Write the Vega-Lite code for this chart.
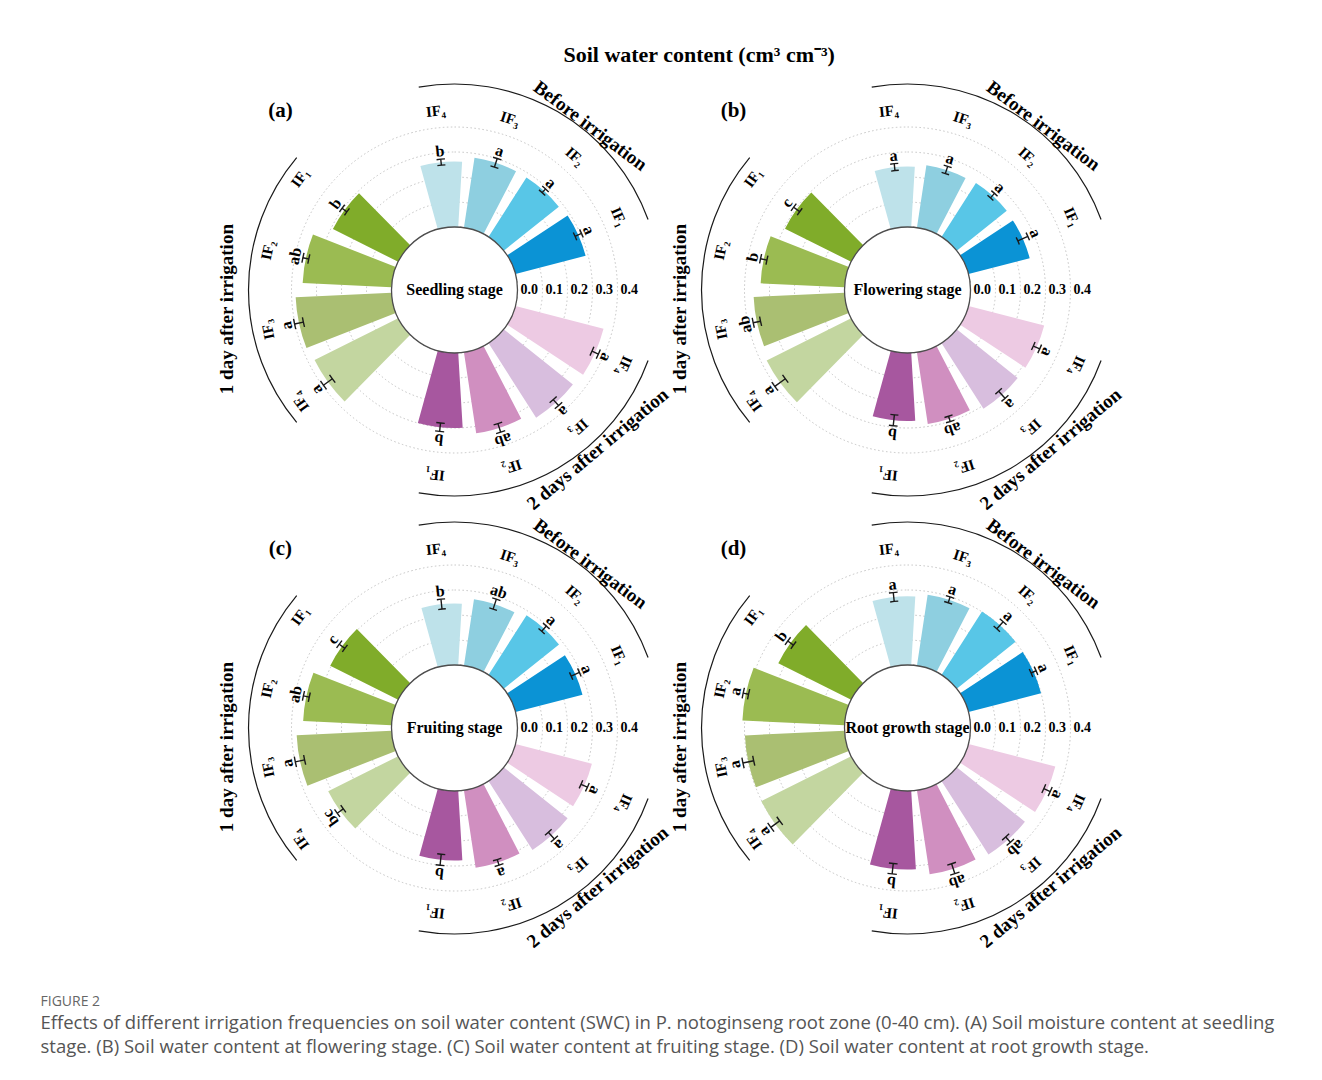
{
  "$schema": "https://vega.github.io/schema/vega-lite/v6.json",
  "background": "white",
  "padding": {"left": 40, "top": 44, "right": 0, "bottom": 0},
  "config": {"view": {"stroke": null}, "font": "Liberation Serif", "text": {"font": "Liberation Serif"}, "header": {"labels": false, "title": null}},
  "data": {"values": [
    {"panel":"a","prow":1,"pcol":1,"kind":"bar","slot":0,"key":"B4","lab":"IF₄","v":0.262,"lo":0.250,"hi":0.274,"sig":"b"},
    {"panel":"a","prow":1,"pcol":1,"kind":"bar","slot":1,"key":"B3","lab":"IF₃","v":0.283,"lo":0.265,"hi":0.301,"sig":"a"},
    {"panel":"a","prow":1,"pcol":1,"kind":"bar","slot":2,"key":"B2","lab":"IF₂","v":0.282,"lo":0.272,"hi":0.292,"sig":"a"},
    {"panel":"a","prow":1,"pcol":1,"kind":"bar","slot":3,"key":"B1","lab":"IF₁","v":0.290,"lo":0.276,"hi":0.304,"sig":"a"},
    {"panel":"a","prow":1,"pcol":1,"kind":"bar","slot":5,"key":"T4","lab":"IF₄","v":0.364,"lo":0.350,"hi":0.378,"sig":"a"},
    {"panel":"a","prow":1,"pcol":1,"kind":"bar","slot":6,"key":"T3","lab":"IF₃","v":0.354,"lo":0.338,"hi":0.370,"sig":"a"},
    {"panel":"a","prow":1,"pcol":1,"kind":"bar","slot":7,"key":"T2","lab":"IF₂","v":0.328,"lo":0.310,"hi":0.346,"sig":"ab"},
    {"panel":"a","prow":1,"pcol":1,"kind":"bar","slot":8,"key":"T1","lab":"IF₁","v":0.300,"lo":0.283,"hi":0.317,"sig":"b"},
    {"panel":"a","prow":1,"pcol":1,"kind":"bar","slot":10,"key":"O4","lab":"IF₄","v":0.374,"lo":0.352,"hi":0.396,"sig":"a"},
    {"panel":"a","prow":1,"pcol":1,"kind":"bar","slot":11,"key":"O3","lab":"IF₃","v":0.384,"lo":0.366,"hi":0.402,"sig":"a"},
    {"panel":"a","prow":1,"pcol":1,"kind":"bar","slot":12,"key":"O2","lab":"IF₂","v":0.356,"lo":0.344,"hi":0.368,"sig":"ab"},
    {"panel":"a","prow":1,"pcol":1,"kind":"bar","slot":13,"key":"O1","lab":"IF₁","v":0.292,"lo":0.280,"hi":0.304,"sig":"b"},
    {"panel":"b","prow":1,"pcol":2,"kind":"bar","slot":0,"key":"B4","lab":"IF₄","v":0.242,"lo":0.228,"hi":0.256,"sig":"a"},
    {"panel":"b","prow":1,"pcol":2,"kind":"bar","slot":1,"key":"B3","lab":"IF₃","v":0.253,"lo":0.238,"hi":0.268,"sig":"a"},
    {"panel":"b","prow":1,"pcol":2,"kind":"bar","slot":2,"key":"B2","lab":"IF₂","v":0.256,"lo":0.244,"hi":0.268,"sig":"a"},
    {"panel":"b","prow":1,"pcol":2,"kind":"bar","slot":3,"key":"B1","lab":"IF₁","v":0.253,"lo":0.231,"hi":0.275,"sig":"a"},
    {"panel":"b","prow":1,"pcol":2,"kind":"bar","slot":5,"key":"T4","lab":"IF₄","v":0.313,"lo":0.299,"hi":0.327,"sig":"a"},
    {"panel":"b","prow":1,"pcol":2,"kind":"bar","slot":6,"key":"T3","lab":"IF₃","v":0.312,"lo":0.293,"hi":0.331,"sig":"a"},
    {"panel":"b","prow":1,"pcol":2,"kind":"bar","slot":7,"key":"T2","lab":"IF₂","v":0.290,"lo":0.279,"hi":0.301,"sig":"ab"},
    {"panel":"b","prow":1,"pcol":2,"kind":"bar","slot":8,"key":"T1","lab":"IF₁","v":0.272,"lo":0.250,"hi":0.294,"sig":"b"},
    {"panel":"b","prow":1,"pcol":2,"kind":"bar","slot":10,"key":"O4","lab":"IF₄","v":0.378,"lo":0.352,"hi":0.404,"sig":"a"},
    {"panel":"b","prow":1,"pcol":2,"kind":"bar","slot":11,"key":"O3","lab":"IF₃","v":0.364,"lo":0.349,"hi":0.379,"sig":"ab"},
    {"panel":"b","prow":1,"pcol":2,"kind":"bar","slot":12,"key":"O2","lab":"IF₂","v":0.336,"lo":0.323,"hi":0.349,"sig":"b"},
    {"panel":"b","prow":1,"pcol":2,"kind":"bar","slot":13,"key":"O1","lab":"IF₁","v":0.296,"lo":0.281,"hi":0.311,"sig":"c"},
    {"panel":"c","prow":2,"pcol":1,"kind":"bar","slot":0,"key":"B4","lab":"IF₄","v":0.246,"lo":0.226,"hi":0.266,"sig":"b"},
    {"panel":"c","prow":2,"pcol":1,"kind":"bar","slot":1,"key":"B3","lab":"IF₃","v":0.269,"lo":0.248,"hi":0.290,"sig":"ab"},
    {"panel":"c","prow":2,"pcol":1,"kind":"bar","slot":2,"key":"B2","lab":"IF₂","v":0.283,"lo":0.269,"hi":0.297,"sig":"a"},
    {"panel":"c","prow":2,"pcol":1,"kind":"bar","slot":3,"key":"B1","lab":"IF₁","v":0.277,"lo":0.259,"hi":0.295,"sig":"a"},
    {"panel":"c","prow":2,"pcol":1,"kind":"bar","slot":5,"key":"T4","lab":"IF₄","v":0.316,"lo":0.302,"hi":0.330,"sig":"a"},
    {"panel":"c","prow":2,"pcol":1,"kind":"bar","slot":6,"key":"T3","lab":"IF₃","v":0.327,"lo":0.309,"hi":0.345,"sig":"a"},
    {"panel":"c","prow":2,"pcol":1,"kind":"bar","slot":7,"key":"T2","lab":"IF₂","v":0.313,"lo":0.301,"hi":0.325,"sig":"a"},
    {"panel":"c","prow":2,"pcol":1,"kind":"bar","slot":8,"key":"T1","lab":"IF₁","v":0.278,"lo":0.256,"hi":0.300,"sig":"b"},
    {"panel":"c","prow":2,"pcol":1,"kind":"bar","slot":10,"key":"O4","lab":"IF₄","v":0.313,"lo":0.298,"hi":0.328,"sig":"bc"},
    {"panel":"c","prow":2,"pcol":1,"kind":"bar","slot":11,"key":"O3","lab":"IF₃","v":0.380,"lo":0.361,"hi":0.399,"sig":"a"},
    {"panel":"c","prow":2,"pcol":1,"kind":"bar","slot":12,"key":"O2","lab":"IF₂","v":0.354,"lo":0.342,"hi":0.366,"sig":"ab"},
    {"panel":"c","prow":2,"pcol":1,"kind":"bar","slot":13,"key":"O1","lab":"IF₁","v":0.304,"lo":0.290,"hi":0.318,"sig":"c"},
    {"panel":"d","prow":2,"pcol":2,"kind":"bar","slot":0,"key":"B4","lab":"IF₄","v":0.275,"lo":0.257,"hi":0.293,"sig":"a"},
    {"panel":"d","prow":2,"pcol":2,"kind":"bar","slot":1,"key":"B3","lab":"IF₃","v":0.287,"lo":0.275,"hi":0.299,"sig":"a"},
    {"panel":"d","prow":2,"pcol":2,"kind":"bar","slot":2,"key":"B2","lab":"IF₂","v":0.301,"lo":0.282,"hi":0.320,"sig":"a"},
    {"panel":"d","prow":2,"pcol":2,"kind":"bar","slot":3,"key":"B1","lab":"IF₁","v":0.300,"lo":0.289,"hi":0.311,"sig":"a"},
    {"panel":"d","prow":2,"pcol":2,"kind":"bar","slot":5,"key":"T4","lab":"IF₄","v":0.359,"lo":0.345,"hi":0.373,"sig":"a"},
    {"panel":"d","prow":2,"pcol":2,"kind":"bar","slot":6,"key":"T3","lab":"IF₃","v":0.349,"lo":0.335,"hi":0.363,"sig":"ab"},
    {"panel":"d","prow":2,"pcol":2,"kind":"bar","slot":7,"key":"T2","lab":"IF₂","v":0.340,"lo":0.319,"hi":0.361,"sig":"ab"},
    {"panel":"d","prow":2,"pcol":2,"kind":"bar","slot":8,"key":"T1","lab":"IF₁","v":0.314,"lo":0.293,"hi":0.335,"sig":"b"},
    {"panel":"d","prow":2,"pcol":2,"kind":"bar","slot":10,"key":"O4","lab":"IF₄","v":0.402,"lo":0.380,"hi":0.424,"sig":"a"},
    {"panel":"d","prow":2,"pcol":2,"kind":"bar","slot":11,"key":"O3","lab":"IF₃","v":0.399,"lo":0.377,"hi":0.421,"sig":"a"},
    {"panel":"d","prow":2,"pcol":2,"kind":"bar","slot":12,"key":"O2","lab":"IF₂","v":0.409,"lo":0.398,"hi":0.420,"sig":"a"},
    {"panel":"d","prow":2,"pcol":2,"kind":"bar","slot":13,"key":"O1","lab":"IF₁","v":0.326,"lo":0.312,"hi":0.340,"sig":"b"},
    {"panel":"a","prow":1,"pcol":1,"kind":"ctr","name":"Seedling stage","ttl":"(a)"},
    {"panel":"b","prow":1,"pcol":2,"kind":"ctr","name":"Flowering stage","ttl":"(b)"},
    {"panel":"c","prow":2,"pcol":1,"kind":"ctr","name":"Fruiting stage","ttl":"(c)"},
    {"panel":"d","prow":2,"pcol":2,"kind":"ctr","name":"Root growth stage","ttl":"(d)"},
    {"panel":"a","prow":1,"pcol":1,"kind":"tick","v":0.0},{"panel":"a","prow":1,"pcol":1,"kind":"tick","v":0.1},{"panel":"a","prow":1,"pcol":1,"kind":"tick","v":0.2},{"panel":"a","prow":1,"pcol":1,"kind":"tick","v":0.3},{"panel":"a","prow":1,"pcol":1,"kind":"tick","v":0.4},
    {"panel":"b","prow":1,"pcol":2,"kind":"tick","v":0.0},{"panel":"b","prow":1,"pcol":2,"kind":"tick","v":0.1},{"panel":"b","prow":1,"pcol":2,"kind":"tick","v":0.2},{"panel":"b","prow":1,"pcol":2,"kind":"tick","v":0.3},{"panel":"b","prow":1,"pcol":2,"kind":"tick","v":0.4},
    {"panel":"c","prow":2,"pcol":1,"kind":"tick","v":0.0},{"panel":"c","prow":2,"pcol":1,"kind":"tick","v":0.1},{"panel":"c","prow":2,"pcol":1,"kind":"tick","v":0.2},{"panel":"c","prow":2,"pcol":1,"kind":"tick","v":0.3},{"panel":"c","prow":2,"pcol":1,"kind":"tick","v":0.4},
    {"panel":"d","prow":2,"pcol":2,"kind":"tick","v":0.0},{"panel":"d","prow":2,"pcol":2,"kind":"tick","v":0.1},{"panel":"d","prow":2,"pcol":2,"kind":"tick","v":0.2},{"panel":"d","prow":2,"pcol":2,"kind":"tick","v":0.3},{"panel":"d","prow":2,"pcol":2,"kind":"tick","v":0.4},
    {"panel":"a","prow":1,"pcol":1,"kind":"grp","grp":"Before irrigation","mid":1.5,"lpos":1.9},
    {"panel":"a","prow":1,"pcol":1,"kind":"grp","grp":"2 days after irrigation","mid":6.5,"lpos":6.0},
    {"panel":"a","prow":1,"pcol":1,"kind":"grp","grp":"1 day after irrigation","mid":11.5,"lpos":11.3},
    {"panel":"b","prow":1,"pcol":2,"kind":"grp","grp":"Before irrigation","mid":1.5,"lpos":1.9},
    {"panel":"b","prow":1,"pcol":2,"kind":"grp","grp":"2 days after irrigation","mid":6.5,"lpos":6.0},
    {"panel":"b","prow":1,"pcol":2,"kind":"grp","grp":"1 day after irrigation","mid":11.5,"lpos":11.3},
    {"panel":"c","prow":2,"pcol":1,"kind":"grp","grp":"Before irrigation","mid":1.5,"lpos":1.9},
    {"panel":"c","prow":2,"pcol":1,"kind":"grp","grp":"2 days after irrigation","mid":6.5,"lpos":6.0},
    {"panel":"c","prow":2,"pcol":1,"kind":"grp","grp":"1 day after irrigation","mid":11.5,"lpos":11.3},
    {"panel":"d","prow":2,"pcol":2,"kind":"grp","grp":"Before irrigation","mid":1.5,"lpos":1.9},
    {"panel":"d","prow":2,"pcol":2,"kind":"grp","grp":"2 days after irrigation","mid":6.5,"lpos":6.0},
    {"panel":"d","prow":2,"pcol":2,"kind":"grp","grp":"1 day after irrigation","mid":11.5,"lpos":11.3}
  ]},
  "title": {
    "text": "FIGURE 2",
    "subtitle": ["Effects of different irrigation frequencies on soil water content (SWC) in P. notoginseng root zone (0-40 cm). (A) Soil moisture content at seedling", "stage. (B) Soil water content at flowering stage. (C) Soil water content at fruiting stage. (D) Soil water content at root growth stage."],
    "orient": "bottom", "anchor": "start", "frame": "group", "dx": -187.5, "offset": 43,
    "font": "Open Sans", "fontSize": 14, "fontWeight": "normal", "color": "#666666",
    "subtitleFont": "Open Sans", "subtitleFontSize": 18.5, "subtitleColor": "#555555", "subtitleLineHeight": 24, "subtitlePadding": 5
  },
  "vconcat": [
    {
      "facet": {
        "row": {"field": "prow", "type": "ordinal", "header": null},
        "column": {"field": "pcol", "type": "ordinal", "header": null}
      },
      "spacing": 0,
      "bounds": "flush",
      "title": {"text": "Soil water content (cm³ cm⁻³)", "anchor": "middle", "font": "Liberation Serif", "fontSize": 22, "fontWeight": "bold", "color": "black", "dx": 23, "offset": 4},
      "spec": {
        "width": 453,
        "height": 438,
        "layer": [
          {
            "transform": [{"filter": "datum.kind === 'tick' && datum.v > 0"}],
            "mark": {"type": "arc", "theta": 0, "theta2": 6.2832, "fillOpacity": 0, "stroke": "#c4c4c4", "strokeWidth": 1, "strokeDash": [1.5, 2.5]},
            "encoding": {"radius": {"field": "v", "type": "quantitative", "scale": {"type": "linear", "domain": [0, 0.5], "range": [63, 188], "zero": false}, "stack": null}}
          },
          {
            "transform": [{"filter": "datum.kind === 'bar'"}],
            "mark": {"type": "arc", "thetaOffset": -0.164, "theta2Offset": 0.164},
            "encoding": {
              "theta": {"field": "slot", "type": "quantitative", "scale": {"type": "linear", "domain": [-0.5, 14.5], "range": [-0.314159, 5.969026], "zero": false, "nice": false}, "stack": null},
              "theta2": {"field": "slot"},
              "radius": {"field": "v", "type": "quantitative", "scale": {"type": "linear", "domain": [0, 0.5], "range": [63, 188], "zero": false}, "stack": null},
              "color": {"field": "key", "type": "nominal", "legend": null, "scale": {"domain": ["B4","B3","B2","B1","T4","T3","T2","T1","O4","O3","O2","O1"], "range": ["#BEE2EA","#8ECFE0","#58C6E7","#0B93D5","#EDCAE3","#D8BEDE","#D08FC0","#A7579F","#C3D6A0","#AABF72","#9BBB52","#80AC2A"]}}
            }
          },
          {
            "transform": [{"filter": "datum.kind === 'bar'"}],
            "mark": {"type": "arc", "fillOpacity": 0, "stroke": "#1a1a1a", "strokeWidth": 1.4},
            "encoding": {
              "theta": {"field": "slot", "type": "quantitative", "scale": {"type": "linear", "domain": [-0.5, 14.5], "range": [-0.314159, 5.969026], "zero": false, "nice": false}, "stack": null},
              "theta2": {"field": "slot"},
              "radius": {"field": "lo", "type": "quantitative", "scale": {"type": "linear", "domain": [0, 0.5], "range": [63, 188], "zero": false}, "stack": null},
              "radius2": {"field": "hi"}
            }
          },
          {
            "transform": [{"filter": "datum.kind === 'bar'"}],
            "mark": {"type": "arc", "fillOpacity": 0, "stroke": "#1a1a1a", "strokeWidth": 1.4, "thetaOffset": -0.032, "theta2Offset": 0.032},
            "encoding": {
              "theta": {"field": "slot", "type": "quantitative", "scale": {"type": "linear", "domain": [-0.5, 14.5], "range": [-0.314159, 5.969026], "zero": false, "nice": false}, "stack": null},
              "theta2": {"field": "slot"},
              "radius": {"field": "hi", "type": "quantitative", "scale": {"type": "linear", "domain": [0, 0.5], "range": [63, 188], "zero": false}, "stack": null},
              "radius2": {"field": "hi"}
            }
          },
          {
            "transform": [{"filter": "datum.kind === 'bar'"}],
            "mark": {"type": "arc", "fillOpacity": 0, "stroke": "#1a1a1a", "strokeWidth": 1.4, "thetaOffset": -0.032, "theta2Offset": 0.032},
            "encoding": {
              "theta": {"field": "slot", "type": "quantitative", "scale": {"type": "linear", "domain": [-0.5, 14.5], "range": [-0.314159, 5.969026], "zero": false, "nice": false}, "stack": null},
              "theta2": {"field": "slot"},
              "radius": {"field": "lo", "type": "quantitative", "scale": {"type": "linear", "domain": [0, 0.5], "range": [63, 188], "zero": false}, "stack": null},
              "radius2": {"field": "lo"}
            }
          },
          {
            "transform": [{"filter": "datum.kind === 'ctr'"}],
            "mark": {"type": "arc", "radius": 63, "theta": 0, "theta2": 6.2832, "fill": "white", "stroke": "#4d4d4d", "strokeWidth": 1.3},
            "encoding": {}
          },
          {
            "transform": [{"filter": "datum.kind === 'ctr'"}],
            "mark": {"type": "text", "fontSize": 16, "fontWeight": "bold", "baseline": "middle", "color": "black"},
            "encoding": {"text": {"field": "name"}}
          },
          {
            "transform": [{"filter": "datum.kind === 'tick'"}],
            "mark": {"type": "text", "theta": 1.5708, "align": "left", "baseline": "middle", "dx": 3, "fontSize": 14, "fontWeight": "bold", "color": "black"},
            "encoding": {
              "radius": {"field": "v", "type": "quantitative", "scale": {"type": "linear", "domain": [0, 0.5], "range": [63, 188], "zero": false}, "stack": null},
              "text": {"field": "v", "type": "quantitative", "format": ".1f"}
            }
          },
          {
            "transform": [{"filter": "datum.kind === 'bar'"}],
            "mark": {"type": "text", "radiusOffset": 8, "fontSize": 16, "fontWeight": "bold", "baseline": "middle", "align": "center", "color": "black"},
            "encoding": {
              "theta": {"field": "slot", "type": "quantitative", "scale": {"type": "linear", "domain": [-0.5, 14.5], "range": [-0.314159, 5.969026], "zero": false, "nice": false}, "stack": null},
              "radius": {"field": "hi", "type": "quantitative", "scale": {"type": "linear", "domain": [0, 0.5], "range": [63, 188], "zero": false}, "stack": null},
              "angle": {"field": "slot", "type": "quantitative", "scale": {"type": "linear", "domain": [0, 15], "range": [-6, 354], "zero": false, "nice": false}},
              "text": {"field": "sig"}
            }
          },
          {
            "transform": [{"filter": "datum.kind === 'bar' && datum.slot < 4"}],
            "mark": {"type": "text", "radius": 180, "fontSize": 15, "fontWeight": "bold", "baseline": "middle", "align": "center", "color": "black"},
            "encoding": {
              "theta": {"field": "slot", "type": "quantitative", "scale": {"type": "linear", "domain": [-0.5, 14.5], "range": [-0.314159, 5.969026], "zero": false, "nice": false}, "stack": null},
              "angle": {"field": "slot", "type": "quantitative", "scale": {"type": "linear", "domain": [0, 15], "range": [-6, 354], "zero": false, "nice": false}},
              "text": {"field": "lab"}
            }
          },
          {
            "transform": [{"filter": "datum.kind === 'bar' && datum.slot > 4 && datum.slot < 9"}],
            "mark": {"type": "text", "radius": 186, "fontSize": 15, "fontWeight": "bold", "baseline": "middle", "align": "center", "color": "black"},
            "encoding": {
              "theta": {"field": "slot", "type": "quantitative", "scale": {"type": "linear", "domain": [-0.5, 14.5], "range": [-0.314159, 5.969026], "zero": false, "nice": false}, "stack": null},
              "angle": {"field": "slot", "type": "quantitative", "scale": {"type": "linear", "domain": [0, 15], "range": [-6, 354], "zero": false, "nice": false}},
              "text": {"field": "lab"}
            }
          },
          {
            "transform": [{"filter": "datum.kind === 'bar' && datum.slot > 9"}],
            "mark": {"type": "text", "radius": 191, "fontSize": 15, "fontWeight": "bold", "baseline": "middle", "align": "center", "color": "black"},
            "encoding": {
              "theta": {"field": "slot", "type": "quantitative", "scale": {"type": "linear", "domain": [-0.5, 14.5], "range": [-0.314159, 5.969026], "zero": false, "nice": false}, "stack": null},
              "angle": {"field": "slot", "type": "quantitative", "scale": {"type": "linear", "domain": [0, 15], "range": [-6, 354], "zero": false, "nice": false}},
              "text": {"field": "lab"}
            }
          },
          {
            "transform": [{"filter": "datum.kind === 'grp'"}],
            "mark": {"type": "arc", "radius": 206, "radius2": 206, "thetaOffset": -0.698, "theta2Offset": 0.698, "fillOpacity": 0, "stroke": "#1a1a1a", "strokeWidth": 1.2},
            "encoding": {
              "theta": {"field": "mid", "type": "quantitative", "scale": {"type": "linear", "domain": [-0.5, 14.5], "range": [-0.314159, 5.969026], "zero": false, "nice": false}, "stack": null},
              "theta2": {"field": "mid"}
            }
          },
          {
            "transform": [{"filter": "datum.kind === 'grp' && datum.grp === 'Before irrigation'"}],
            "mark": {"type": "text", "radius": 213, "angle": 37, "fontSize": 19, "fontWeight": "bold", "baseline": "middle", "align": "center", "color": "black"},
            "encoding": {
              "theta": {"field": "lpos", "type": "quantitative", "scale": {"type": "linear", "domain": [-0.5, 14.5], "range": [-0.314159, 5.969026], "zero": false, "nice": false}, "stack": null},
              "text": {"field": "grp"}
            }
          },
          {
            "transform": [{"filter": "datum.kind === 'grp' && datum.grp === '2 days after irrigation'"}],
            "mark": {"type": "text", "radius": 214, "angle": -40, "fontSize": 19, "fontWeight": "bold", "baseline": "middle", "align": "center", "color": "black"},
            "encoding": {
              "theta": {"field": "lpos", "type": "quantitative", "scale": {"type": "linear", "domain": [-0.5, 14.5], "range": [-0.314159, 5.969026], "zero": false, "nice": false}, "stack": null},
              "text": {"field": "grp"}
            }
          },
          {
            "transform": [{"filter": "datum.kind === 'grp' && datum.grp === '1 day after irrigation'"}],
            "mark": {"type": "text", "radius": 228, "angle": -90, "fontSize": 19, "fontWeight": "bold", "baseline": "middle", "align": "center", "color": "black"},
            "encoding": {
              "theta": {"field": "lpos", "type": "quantitative", "scale": {"type": "linear", "domain": [-0.5, 14.5], "range": [-0.314159, 5.969026], "zero": false, "nice": false}, "stack": null},
              "text": {"field": "grp"}
            }
          },
          {
            "transform": [{"filter": "datum.kind === 'ctr'"}],
            "mark": {"type": "text", "theta": -0.77, "radius": 250, "fontSize": 21, "fontWeight": "bold", "baseline": "middle", "align": "center", "color": "black"},
            "encoding": {"text": {"field": "ttl"}}
          }
        ]
      }
    }
  ]
}
